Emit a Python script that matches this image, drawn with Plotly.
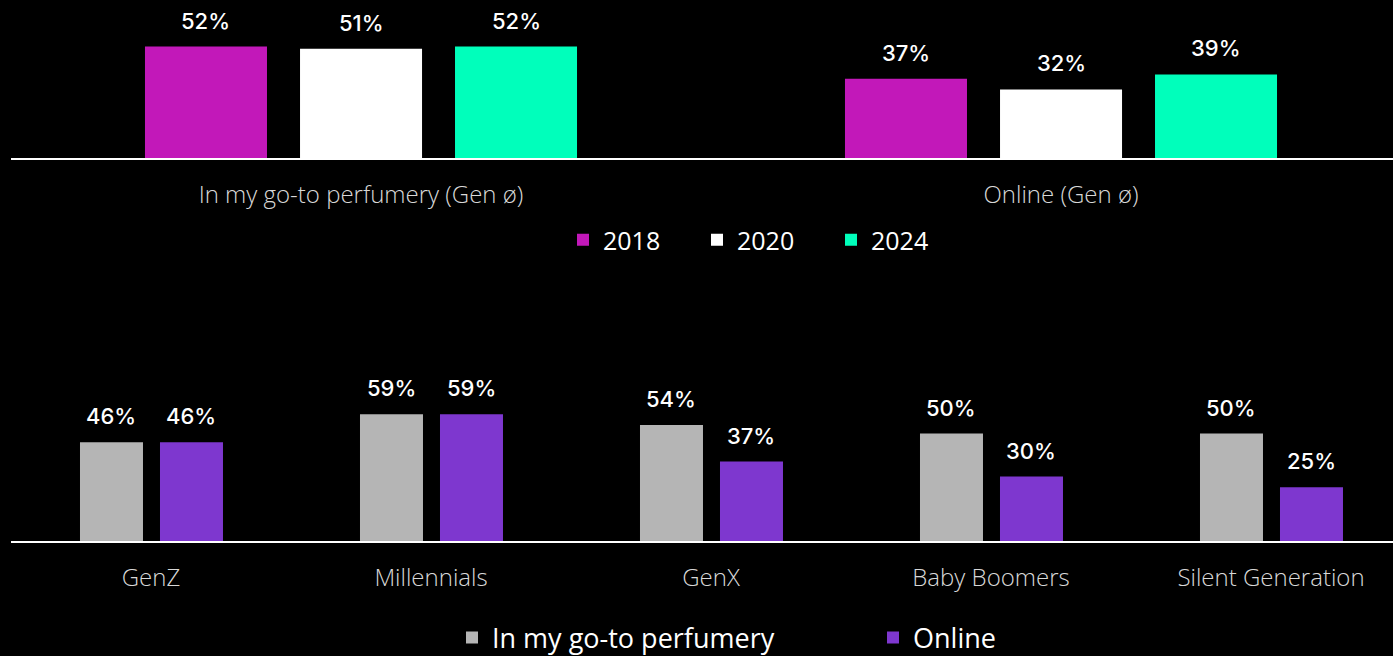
import plotly.graph_objects as go

# Channel comparison across survey years
channels = ["In my go-to perfumery (Gen ø)", "Online (Gen ø)"]
years = ["2018", "2020", "2024"]
share_2018 = [52, 37]
share_2020 = [51, 32]
share_2024 = [52, 39]

# Channel split by generation
generations = ["GenZ", "Millennials", "GenX", "Baby Boomers", "Silent Generation"]
channel_names = ["In my go-to perfumery", "Online"]
perfumery = [46, 59, 54, 50, 50]
online = [46, 59, 37, 30, 25]

year_colors = ["#C218B9", "#FFFFFF", "#00FFBB"]
channel_colors = ["#B5B5B5", "#7E37CF"]

W, H = 1393, 656
ML = 11
PLOT_W = W - ML
TOP_UNIT = 700   # px per category, top panel
BOT_UNIT = 280   # px per category, bottom panel

LABEL_FONT = dict(family="Inter", size=22, color="white", weight=500)
TICK_FONT = dict(family="Open Sans", size=24, color="#D8D8D8", weight=300)

fig = go.Figure()
annotations = []


def add_group(cats, series, names, colors, width, offsets, unit, xa, ya, legend):
    for name, vals, col, off in zip(names, series, colors, offsets):
        fig.add_trace(go.Bar(
            x=cats, y=vals, name=name,
            marker=dict(color=col, line=dict(width=0)),
            width=width, offset=off,
            xaxis=xa, yaxis=ya, legend=legend, hoverinfo="skip",
        ))
        # value labels sit above each bar
        shift = (off + width / 2) * unit
        for c, v in zip(cats, vals):
            annotations.append(dict(
                x=c, y=v, xref=xa, yref=ya, text=f"{v}%", showarrow=False,
                xshift=shift, yshift=26, yanchor="middle", xanchor="center",
                font=LABEL_FONT,
            ))


add_group(channels, [share_2018, share_2020, share_2024], years, year_colors,
          0.1743, [-0.3086, -0.0871, 0.1343], TOP_UNIT, "x", "y", "legend")
add_group(generations, [perfumery, online], channel_names, channel_colors,
          0.225, [-0.2536, 0.0321], BOT_UNIT, "x2", "y2", "legend2")

xcommon = dict(
    type="category", showline=True, linecolor="white", linewidth=2,
    showgrid=False, zeroline=False, ticks="", tickfont=TICK_FONT,
    ticklabelstandoff=14, fixedrange=True,
)
ycommon = dict(visible=False, showgrid=False, zeroline=False, fixedrange=True)

fig.update_layout(
    width=W, height=H,
    paper_bgcolor="black", plot_bgcolor="black",
    margin=dict(l=ML, r=0, t=0, b=0, autoexpand=False),
    annotations=annotations,
    xaxis=dict(xcommon, range=[-0.5, -0.5 + PLOT_W / TOP_UNIT], anchor="y"),
    yaxis=dict(ycommon, domain=[1 - 158 / H, 1], range=[0, 73.7], anchor="x"),
    xaxis2=dict(xcommon, range=[-0.5, -0.5 + PLOT_W / BOT_UNIT], anchor="y2"),
    yaxis2=dict(ycommon, domain=[(H - 541) / H, (H - 382) / H], range=[0, 74], anchor="x2"),
    legend=dict(
        orientation="h", x=(563 - ML) / PLOT_W, xanchor="left",
        y=(H - 240) / H, yanchor="middle",
        font=dict(family="Open Sans", size=25, color="white"),
        entrywidth=89, bgcolor="rgba(0,0,0,0)",
    ),
    legend2=dict(
        orientation="h", x=(452 - ML) / PLOT_W, xanchor="left",
        y=(H - 638) / H, yanchor="middle",
        font=dict(family="Open Sans", size=27, color="white"),
        entrywidth=376, bgcolor="rgba(0,0,0,0)",
    ),
    showlegend=True,
)

fig.write_html("out.html")
